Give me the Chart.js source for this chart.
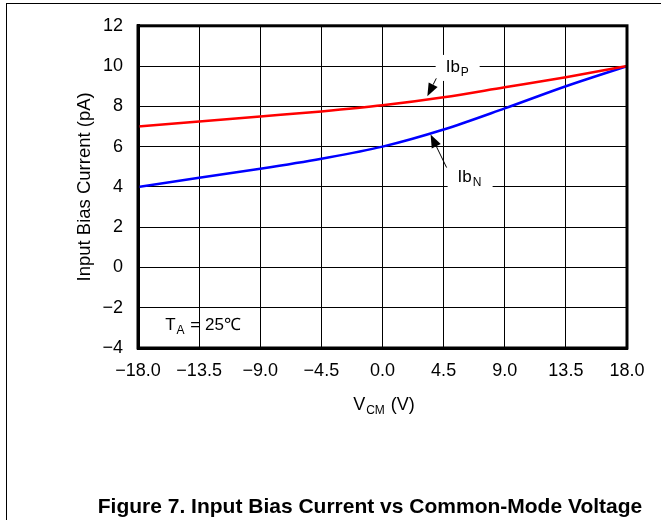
<!DOCTYPE html>
<html>
<head>
<meta charset="utf-8">
<script src="https://cdn.jsdelivr.net/npm/chart.js@4.4.0/dist/chart.umd.min.js"></script>
<style>
  body { margin: 0; background: #fff; }
  #wrap { position: relative; width: 671px; height: 520px; }
  #frame { position: absolute; left: 6px; top: 3px; width: 654px; height: 517px;
           border-top: 1px solid #000; border-left: 1px solid #000; pointer-events: none; }
</style>
</head>
<body>
<div id="wrap">
  <canvas id="myChart" width="671" height="520"></canvas>
  <div id="frame"></div>
</div>
<script>
// common-mode voltage (V)
const vcm = [-18, -13.5, -9, -4.5, 0, 4.5, 9, 13.5, 18];
// input bias currents (pA)
const ibP = [7.0, 7.25, 7.5, 7.75, 8.05, 8.45, 8.95, 9.45, 10];
const ibN = [4.0, 4.45, 4.9, 5.4, 6.0, 6.85, 7.9, 9.0, 10];

const xTitle = ["V", "CM", " (V)"];
const yTitle = "Input Bias Current (pA)";
const caption = "Figure 7. Input Bias Current vs Common-Mode Voltage";
const tempNote = ["T", "A", " = 25\u2103"];

const font = "'Liberation Sans', Arial, sans-serif";

function minus(s) {
  return s.replace("-", "\u2212");
}

function subText(ctx, main, sub, rest, x, y, size) {
  ctx.font = size + "px " + font;
  ctx.fillText(main, x, y);
  let w = ctx.measureText(main).width;
  ctx.font = Math.round(size * 0.68) + "px " + font;
  ctx.fillText(sub, x + w + 1, y + 4);
  let w2 = ctx.measureText(sub).width;
  if (rest) {
    ctx.font = size + "px " + font;
    ctx.fillText(rest, x + w + w2 + 2, y);
  }
}

function arrow(ctx, x1, y1, x2, y2) {
  const ang = Math.atan2(y2 - y1, x2 - x1);
  const len = 13, half = 5;
  ctx.strokeStyle = "#000";
  ctx.lineWidth = 1;
  ctx.beginPath();
  ctx.moveTo(x1, y1);
  ctx.lineTo(x2 - Math.cos(ang) * len, y2 - Math.sin(ang) * len);
  ctx.stroke();
  ctx.fillStyle = "#000";
  ctx.beginPath();
  ctx.moveTo(x2, y2);
  ctx.lineTo(x2 - Math.cos(ang) * len - Math.sin(ang) * half, y2 - Math.sin(ang) * len + Math.cos(ang) * half);
  ctx.lineTo(x2 - Math.cos(ang) * len + Math.sin(ang) * half, y2 - Math.sin(ang) * len - Math.cos(ang) * half);
  ctx.closePath();
  ctx.fill();
}

const extras = {
  id: "extras",
  afterDraw(chart) {
    const ctx = chart.ctx;
    const xs = chart.scales.x, ys = chart.scales.y;
    const a = chart.chartArea;
    ctx.save();

    // heavy plot border
    ctx.strokeStyle = "#000";
    ctx.lineWidth = 3;
    ctx.strokeRect(a.left, a.top, a.right - a.left, a.bottom - a.top);

    ctx.fillStyle = "#000";
    ctx.textBaseline = "alphabetic";
    ctx.textAlign = "left";

    // Ib_P label + arrow
    let px = xs.getPixelForValue(4.65), py = ys.getPixelForValue(9.71);
    ctx.fillStyle = "#fff";
    ctx.fillRect(px - 10, py - 17, 44, 26);
    ctx.fillStyle = "#000";
    subText(ctx, "Ib", "P", "", px, py, 17);
    arrow(ctx, xs.getPixelForValue(3.96), ys.getPixelForValue(9.39),
               xs.getPixelForValue(3.3), ys.getPixelForValue(8.5));

    // Ib_N label + arrow
    px = xs.getPixelForValue(5.53); py = ys.getPixelForValue(4.25);
    ctx.fillStyle = "#fff";
    ctx.fillRect(px - 10, py - 17, 45, 26);
    ctx.fillStyle = "#000";
    subText(ctx, "Ib", "N", "", px, py, 17);
    arrow(ctx, xs.getPixelForValue(4.72), ys.getPixelForValue(4.96),
               xs.getPixelForValue(3.54), ys.getPixelForValue(6.6));

    // temperature note
    subText(ctx, tempNote[0], tempNote[1], tempNote[2],
            xs.getPixelForValue(-16.0), ys.getPixelForValue(-3.09), 17);

    // x axis title, centred
    ctx.font = "18px " + font;
    let w = ctx.measureText(xTitle[0]).width + ctx.measureText(xTitle[2]).width + 2;
    ctx.font = "12px " + font;
    w += ctx.measureText(xTitle[1]).width;
    subText(ctx, xTitle[0], xTitle[1], xTitle[2], 384 - w / 2, 410, 18);

    // y axis title
    ctx.save();
    ctx.translate(85, (a.top + a.bottom) / 2);
    ctx.rotate(-Math.PI / 2);
    ctx.textAlign = "center";
    ctx.textBaseline = "middle";
    ctx.font = "18.5px " + font;
    ctx.fillText(yTitle, 0, 0);
    ctx.restore();

    // caption
    ctx.textAlign = "center";
    ctx.font = "bold 21px " + font;
    ctx.fillText(caption, 370, 513);

    ctx.restore();
  }
};

const ctx = document.getElementById("myChart").getContext("2d");
const chart = new Chart(ctx, {
  type: "line",
  data: {
    labels: vcm,
    datasets: [
      {
        label: "IbP",
        data: vcm.map((v, i) => ({ x: v, y: ibP[i] })),
        borderColor: "#ff0000",
        borderWidth: 2.5,
        pointRadius: 0,
        cubicInterpolationMode: "monotone"
      },
      {
        label: "IbN",
        data: vcm.map((v, i) => ({ x: v, y: ibN[i] })),
        borderColor: "#0000ff",
        borderWidth: 2.5,
        pointRadius: 0,
        cubicInterpolationMode: "monotone"
      }
    ]
  },
  options: {
    responsive: false,
    animation: false,
    layout: { padding: { left: 0, right: 44, top: 17, bottom: 0 } },
    plugins: { legend: { display: false }, tooltip: { enabled: false } },
    scales: {
      x: {
        type: "linear",
        min: -18, max: 18,
        afterFit: s => { s.height = 172; },
        ticks: {
          stepSize: 4.5,
          padding: 12,
          color: "#000",
          font: { family: font, size: 18 },
          maxRotation: 0,
          callback: v => minus(v.toFixed(1))
        },
        grid: { color: "#000", lineWidth: 1, drawTicks: false },
        border: { color: "#000", width: 3 }
      },
      y: {
        min: -4, max: 12,
        afterFit: s => { s.width = 138; },
        ticks: {
          stepSize: 2,
          padding: 15,
          color: "#000",
          font: { family: font, size: 18 },
          callback: v => minus(String(v))
        },
        grid: { color: "#000", lineWidth: 1, drawTicks: false },
        border: { color: "#000", width: 3 }
      }
    }
  },
  plugins: [extras]
});
</script>
</body>
</html>
